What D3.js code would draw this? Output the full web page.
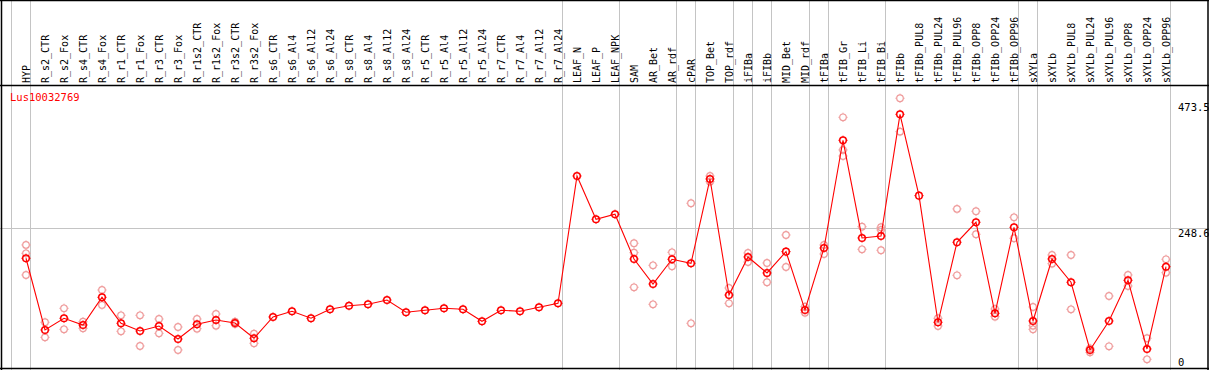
<!DOCTYPE html>
<html>
<head>
<meta charset="utf-8">
<script src="https://cdn.jsdelivr.net/npm/d3@7"></script>
<style>
html,body{margin:0;padding:0;background:#fff;}
svg{display:block;}
text{font-family:"DejaVu Sans Mono","Liberation Mono",monospace;}
</style>
</head>
<body>
<svg id="chart" width="1209" height="370"></svg>
<script>
const geneName = "Lus10032769";
const categories = ["HYP","R_s2_CTR","R_s2_Fox","R_s4_CTR","R_s4_Fox","R_r1_CTR","R_r1_Fox","R_r3_CTR","R_r3_Fox","R_r1s2_CTR","R_r1s2_Fox","R_r3s2_CTR","R_r3s2_Fox","R_s6_CTR","R_s6_Al4","R_s6_Al12","R_s6_Al24","R_s8_CTR","R_s8_Al4","R_s8_Al12","R_s8_Al24","R_r5_CTR","R_r5_Al4","R_r5_Al12","R_r5_Al24","R_r7_CTR","R_r7_Al4","R_r7_Al12","R_r7_Al24","LEAF_N","LEAF_P","LEAF_NPK","SAM","AR_Bet","AR_rdf","cPAR","TOP_Bet","TOP_rdf","iFIBa","iFIBb","MID_Bet","MID_rdf","tFIBa","tFIB_Gr","tFIB_Li","tFIB_Bi","tFIBb","tFIBb_PUL8","tFIBb_PUL24","tFIBb_PUL96","tFIBb_OPP8","tFIBb_OPP24","tFIBb_OPP96","sXYLa","sXYLb","sXYLb_PUL8","sXYLb_PUL24","sXYLb_PUL96","sXYLb_OPP8","sXYLb_OPP24","sXYLb_OPP96"];
const meanValues = [194.4,67.1,87.9,76.0,125.1,79.0,65.3,74.2,51.1,77.2,84.8,79.5,52.4,90.2,100.3,87.9,103.8,110.2,112.7,120.3,98.5,102.1,105.6,103.8,82.5,102.1,100.3,107.4,114.5,340.4,263.6,272.5,193.1,148.7,192.6,185.5,335.1,129.2,196.7,168.3,206.1,102.6,212.6,403.8,230.4,233.9,449.9,305.5,80.8,222.8,258.3,96.7,249.4,83.1,193.1,151.8,31.6,83.1,155.3,33.4,179.4];
const replicateValues = [
 [218.0,203.2,164.7],[80.8,54.1],[105.6,68.3],[81.8,70.1],[138.1,111.5],[93.2,64.8],[93.2,38.7],[86.6,61.2],[72.4,31.6],[86.6,69.4],[95.5,74.7],[81.8,77.7],[60.5,43.5],
 [],[],[],[],[],[],[],[],[],[],[],[],[],[],[],[],
 [],[],[],
 [221.0,204.3,142.9],[181.9,112.7],[205.0,180.2],[292.0,79.0],[340.4,330.3],[141.6,114.5],[203.8,187.8],[186.0,151.8],[235.7,178.9],[108.5,97.8],[218.0,202.0],[444.6,386.6,375.9],[250.4,210.3],[249.4,244.6,208.6],[478.4,419.1],
 [],[87.9,74.2],[281.9,164.2],[277.8,237.0],[104.4,90.7],[267.1,229.9],
 [107.9,74.7,68.3],[200.2,184.8],[200.2,103.8],[34.6,27.5],[127.4,38.2],[164.7,145.2],[52.4,15.1],[192.6,168.8]
];
const groupEnds = ["HYP","R_r7_Al24","LEAF_NPK","AR_rdf","cPAR","TOP_rdf","iFIBa","iFIBb","MID_rdf","tFIBa","tFIB_Bi","tFIBb_OPP96","sXYLa","sXYLb_OPP96"];
const tickValues = [0, 248.6, 473.5];
const tickLabels = ["0", "248.6", "473.5"];

const W = 1209, H = 370;
const svg = d3.select("#chart");
const x = d3.scalePoint().domain(categories).range([26, 1166]);
const y = d3.scaleLinear().domain([0, 473.5]).range([367.8, 101]);
const step = x.step();
const gray = "#c4c4c4";
const red = "#ff0000";
const pink = "#ef9c9c";

// vertical separators
const sepX = [x(categories[0]) - step + 4.5].concat(groupEnds.map(c => x(c) + 4.5));
svg.append("g").selectAll("line").data(sepX).join("line")
  .attr("x1", d => Math.round(d - 0.5) + 0.5).attr("x2", d => Math.round(d - 0.5) + 0.5)
  .attr("y1", 0).attr("y2", H)
  .attr("stroke", gray).attr("stroke-width", 1);

// horizontal grid at mid tick
svg.append("line")
  .attr("x1", 0).attr("x2", W)
  .attr("y1", Math.round(y(tickValues[1])) + 0.5).attr("y2", Math.round(y(tickValues[1])) + 0.5)
  .attr("stroke", gray).attr("stroke-width", 1);

// borders
const black = "#000";
svg.append("line").attr("x1",0).attr("x2",W).attr("y1",0.5).attr("y2",0.5).attr("stroke",black).attr("stroke-width",1.5);
svg.append("line").attr("x1",0).attr("x2",W).attr("y1",85.5).attr("y2",85.5).attr("stroke",black).attr("stroke-width",1.3);
svg.append("line").attr("x1",1.5).attr("x2",1.5).attr("y1",0).attr("y2",H).attr("stroke",black).attr("stroke-width",1.5);
svg.append("line").attr("x1",W-1).attr("x2",W-1).attr("y1",0).attr("y2",H).attr("stroke",black).attr("stroke-width",1.5);
svg.append("line").attr("x1",0).attr("x2",W).attr("y1",368.5).attr("y2",368.5).attr("stroke",black).attr("stroke-width",1.5);

// column labels
svg.append("g").selectAll("text").data(categories).join("text")
  .attr("transform", d => `translate(${x(d) + 4},83) rotate(-90)`)
  .attr("font-size", 10).attr("fill", "#000")
  .text(d => d);

// gene label
svg.append("text").attr("x", 10).attr("y", 100.5)
  .attr("font-size", 10.5).attr("fill", red).text(geneName);

// right axis labels
svg.append("g").selectAll("text").data(tickValues).join("text")
  .attr("x", 1178)
  .attr("y", d => Math.min(y(d) + 9.7, 365.5))
  .attr("font-size", 10.5).attr("fill", "#000")
  .text((d, i) => tickLabels[i]);

// marker: circle with four small ticks
function drawMarkers(g, data, cx, cy, color, sw) {
  const m = g.selectAll("g").data(data).join("g")
    .attr("transform", d => `translate(${cx(d)},${cy(d)})`);
  m.append("circle").attr("r", 3.3).attr("fill", "none")
    .attr("stroke", color).attr("stroke-width", sw);
  const ticks = [[0,-1],[0,1],[-1,0],[1,0]];
  ticks.forEach(([dx, dy]) => {
    m.append("line")
      .attr("x1", dx * 3.3).attr("y1", dy * 3.3)
      .attr("x2", dx * 4.6).attr("y2", dy * 4.6)
      .attr("stroke", color).attr("stroke-width", 1);
  });
}

// replicates
const reps = [];
categories.forEach((c, i) => replicateValues[i].forEach(v => reps.push({c, v})));
drawMarkers(svg.append("g"), reps, d => x(d.c), d => y(d.v), pink, 1.2);

// mean line
const line = d3.line().x((d, i) => x(categories[i])).y(d => y(d));
svg.append("path").datum(meanValues).attr("d", line)
  .attr("fill", "none").attr("stroke", red).attr("stroke-width", 1.1);

// mean markers
const meanPts = meanValues.map((v, i) => ({c: categories[i], v}));
drawMarkers(svg.append("g"), meanPts, d => x(d.c), d => y(d.v), red, 1.5);
</script>
</body>
</html>
